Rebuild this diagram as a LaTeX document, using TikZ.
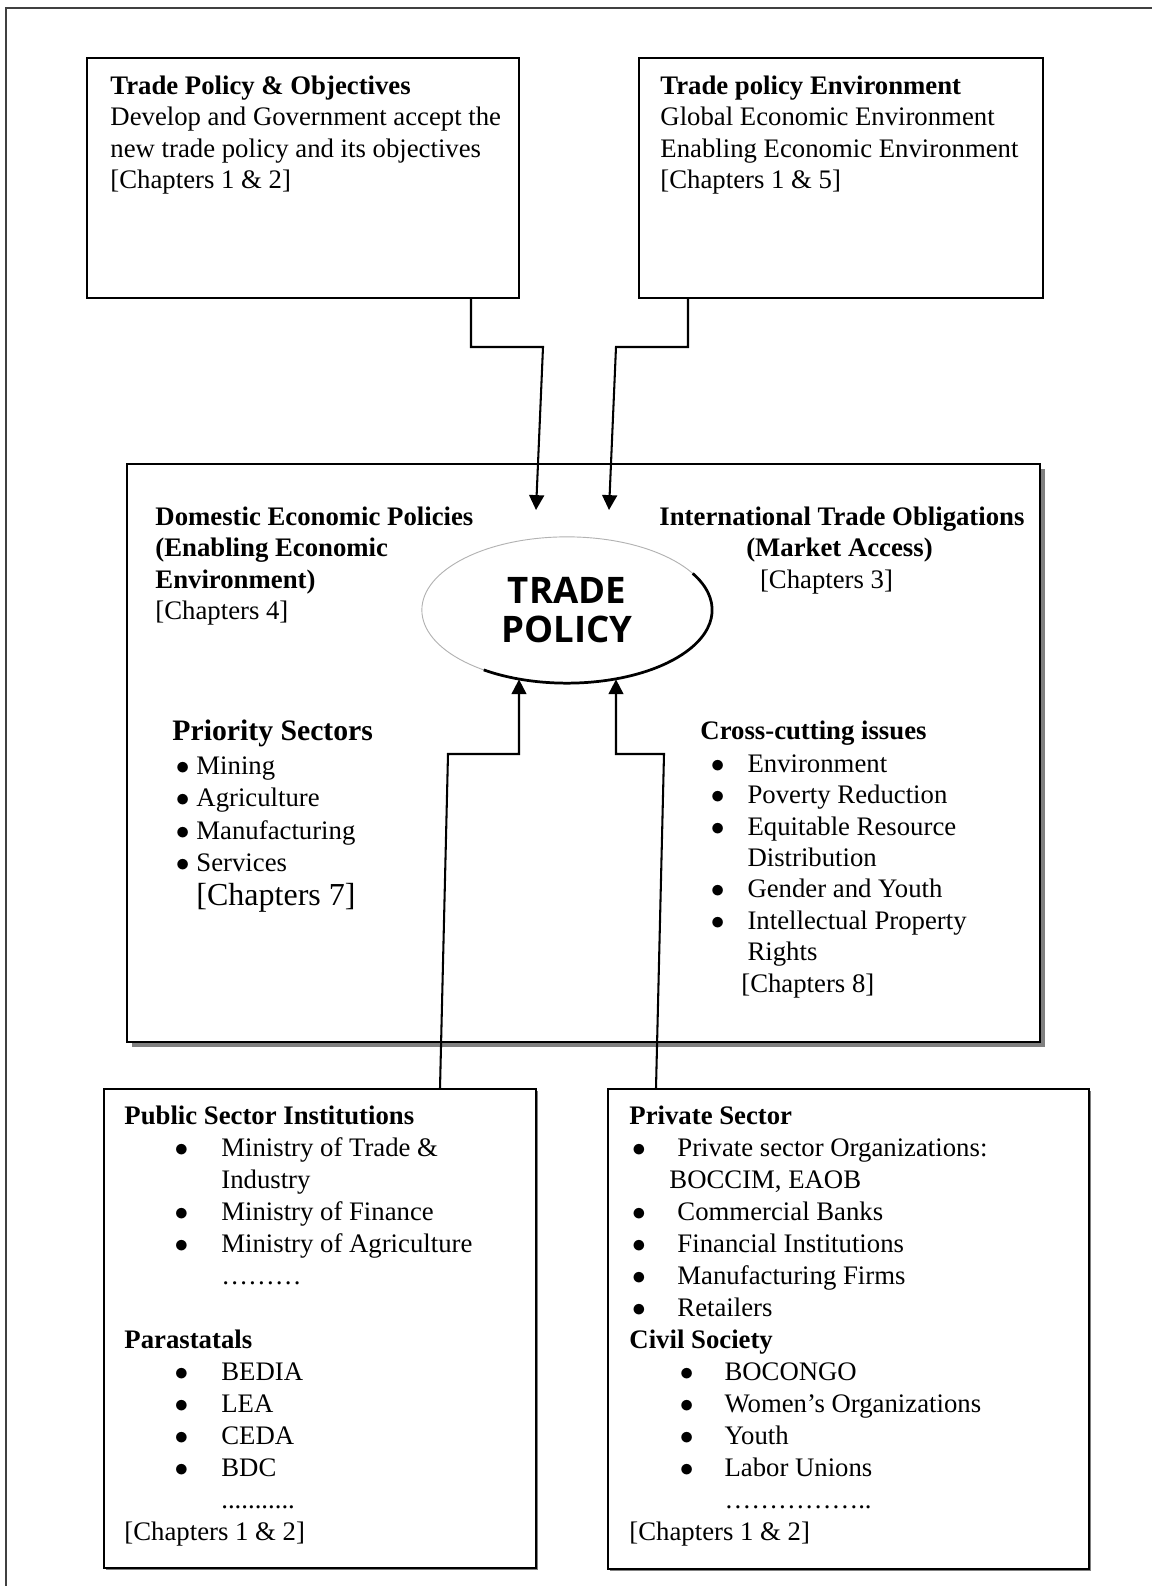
\documentclass[tikz,border=0pt]{standalone}
\usepackage{fontspec}
\setmainfont{Liberation Serif}
\newfontfamily\tpfont{Open Sans}
\usetikzlibrary{shapes.geometric, arrows.meta, fit, shadows}

\newlength\bx
\newlength\tx
\newcommand{\itmat}[3]{\makebox[#2][l]{\hspace*{#1}$\bullet$}#3}
\newcommand{\itm}[1]{\itmat{\bx}{\tx}{#1}}
\newcommand{\cont}[1]{\hspace*{\tx}#1}

\tikzset{
  box/.style={draw=black, line width=0.7pt, fill=white, inner sep=0pt},
  txt/.style={anchor=north west, inner sep=0pt, align=left, font=\fontsize{11.7}{13.8}\selectfont},
  low/.style={txt, font=\fontsize{11.7}{14}\selectfont},
  list/.style 2 args={execute at begin node={\setlength\bx{#1}\setlength\tx{#2}}},
  link/.style={line width=0.9pt},
  tip/.style={-{Triangle[length=6.5pt,width=6.5pt]}}
}

\begin{document}
\begin{tikzpicture}[x=0.4375pt, y=-0.4375pt]
\useasboundingbox (0,0) rectangle (1152,1586);

% page frame
\draw[line width=1pt, black!75] (6,1586) -- (6,8) -- (1152,8);

% boxes
\node[box, fit={(87,58) (519,298)}] (tl) {};
\node[box, fit={(639,58) (1043,298)}] (tr) {};
\node[box, line width=1pt, drop shadow={shadow xshift=2.2pt, shadow yshift=-2.2pt, fill=gray, opacity=1},
  fit={(127,464) (1040,1042)}] (mid) {};
\node[box, drop shadow={shadow xshift=0.8pt, shadow yshift=-0.8pt, fill=gray, opacity=1},
  fit={(104,1089) (536,1568)}] (bl) {};
\node[box, drop shadow={shadow xshift=0.8pt, shadow yshift=-0.8pt, fill=gray, opacity=1},
  fit={(608,1089) (1089,1569)}] (br) {};

% trade policy
\node[ellipse, draw=gray!60, line width=0.4pt, minimum width=127pt, minimum height=64pt, inner sep=0pt,
  align=center, font=\tpfont\bfseries\fontsize{16}{17.2}\selectfont] (tp) at (567,610) {TRADE\\POLICY};
\draw[line width=1.2pt] ([shift={(-125:63.5pt and 32pt)}]tp.center)
  arc[start angle=-125, end angle=30, x radius=63.5pt, y radius=32pt];

% top texts
\node[txt] (tltxt) at (110,75) {\textbf{Trade Policy \& Objectives}\\Develop and Government accept the\\new trade policy and its objectives\\{[}Chapters 1 \& 2{]}};
\node[txt] (trtxt) at (660,75) {\textbf{Trade policy Environment}\\Global Economic Environment\\Enabling Economic Environment\\{[}Chapters 1 \& 5{]}};

% inside the middle box
\node[txt] (dom) at (155,506) {\textbf{Domestic Economic Policies}\\\textbf{(Enabling Economic}\\\textbf{Environment)}\\{[}Chapters 4{]}};
\node[txt] (intl) at (659,506) {\textbf{International Trade Obligations}\\\hspace*{38pt}\textbf{(Market Access)}\\\hspace*{44pt}{[}Chapters 3{]}};

\node[txt, font=\fontsize{13}{14}\selectfont\bfseries] (prio) at (172,719) {Priority Sectors};
\node[txt, list={1.5pt}{10.5pt}, font=\fontsize{11.7}{14.2}\selectfont] (priolist) at (172,756)
  {\itm{Mining}\\\itm{Agriculture}\\\itm{Manufacturing}\\\itm{Services}};
\node[txt, font=\fontsize{14}{16}\selectfont] (ch7) at (196,883) {[Chapters 7]};

\node[txt, font=\fontsize{11.7}{14}\selectfont\bfseries] (cross) at (700,720) {Cross-cutting issues};
\node[txt, list={4.5pt}{20.6pt}, font=\fontsize{11.7}{13.75}\selectfont] (crosslist) at (700,754)
  {\itm{Environment}\\\itm{Poverty Reduction}\\\itm{Equitable Resource}\\\cont{Distribution}\\
   \itm{Gender and Youth}\\\itm{Intellectual Property}\\\cont{Rights}\\\hspace*{17.9pt}{[}Chapters 8{]}};

% bottom texts
\node[low, list={22pt}{42.4pt}] (pub) at (124,1105)
  {\textbf{Public Sector Institutions}\\\itm{Ministry of Trade \&}\\\cont{Industry}\\
   \itm{Ministry of Finance}\\\itm{Ministry of Agriculture}\\\cont{………}\\[14pt]
   \textbf{Parastatals}\\\itm{BEDIA}\\\itm{LEA}\\\itm{CEDA}\\\itm{BDC}\\\cont{...........}\\
   {[}Chapters 1 \& 2{]}};
\node[low, list={1.2pt}{21pt}] (priv) at (629,1105)
  {\textbf{Private Sector}\\\itm{Private sector Organizations:}\\\hspace*{17.5pt}BOCCIM, EAOB\\
   \itm{Commercial Banks}\\\itm{Financial Institutions}\\\itm{Manufacturing Firms}\\\itm{Retailers}\\
   \textbf{Civil Society}\\
   \itmat{22pt}{41.6pt}{BOCONGO}\\\itmat{22pt}{41.6pt}{Women’s Organizations}\\
   \itmat{22pt}{41.6pt}{Youth}\\\itmat{22pt}{41.6pt}{Labor Unions}\\\hspace*{41.6pt}……………..\\
   {[}Chapters 1 \& 2{]}};

% connectors
\coordinate (a1) at (471,347);
\coordinate (a2) at (543,347);
\coordinate (a3) at (536,510);
\coordinate (b1) at (688,347);
\coordinate (b2) at (616,347);
\coordinate (b3) at (609,510);
\draw[link, tip] (tl.south -| a1) -- (a1) -- (a2) -- (a3);
\draw[link, tip] (tr.south -| b1) -- (b1) -- (b2) -- (b3);

\coordinate (c0) at (440,1089);
\coordinate (c1) at (448,754);
\coordinate (c2) at (519,754);
\coordinate (d0) at (656,1089);
\coordinate (d1) at (664,754);
\coordinate (d2) at (616,754);
\draw[link, tip] (bl.north -| c0) -- (c1) -- (c2) -- (c2 |- tp.-125);
\draw[link, tip] (br.north -| d0) -- (d1) -- (d2) -- (d2 |- tp.-55);
\end{tikzpicture}
\end{document}
